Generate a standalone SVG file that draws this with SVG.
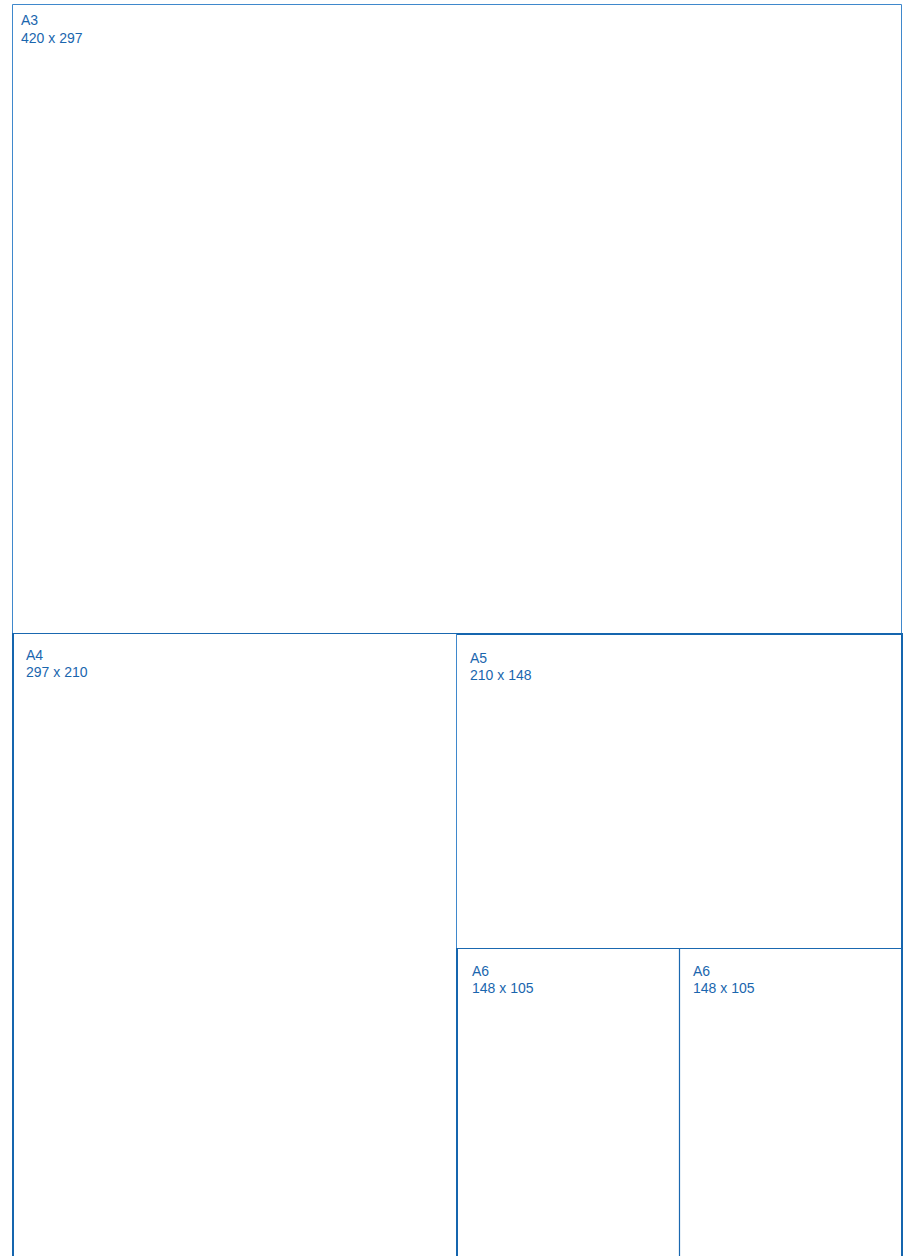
<svg xmlns="http://www.w3.org/2000/svg" width="911" height="1256" viewBox="0 0 911 1256">
<style>
.light{fill:none;stroke:#3f88cc;stroke-width:1}
.dark{fill:none;stroke:#1565ae;stroke-width:2}
.mid{fill:none;stroke:#1a68b0;stroke-width:1.2}
text{font-family:"Liberation Sans",Arial,sans-serif;font-size:14px;fill:#1a66ae}
</style>
<rect width="911" height="1256" fill="#ffffff"/>
<g id="A3">
<path class="light" d="M12.5,633 V4.5 H901.5 V633"/>
<text x="21" y="25">A3</text>
<text x="21" y="43">420 x 297</text>
</g>
<g id="A4">
<path class="mid" d="M12,633.5 H457"/>
<path class="dark" d="M13,633 V1262"/>
<text x="26" y="660">A4</text>
<text x="26" y="677">297 x 210</text>
</g>
<g id="A5">
<path class="dark" d="M457,634 H902 V1262"/>
<path class="light" d="M456.5,634 V948"/>
<path class="mid" d="M457,948.5 H902"/>
<text x="470" y="663">A5</text>
<text x="470" y="680">210 x 148</text>
</g>
<g id="A6a">
<path class="dark" d="M457,948 V1262"/>
<text x="472" y="976">A6</text>
<text x="472" y="993">148 x 105</text>
</g>
<g id="A6b">
<path class="mid" d="M679.5,948 V1262"/>
<text x="693" y="976">A6</text>
<text x="693" y="993">148 x 105</text>
</g>
</svg>
